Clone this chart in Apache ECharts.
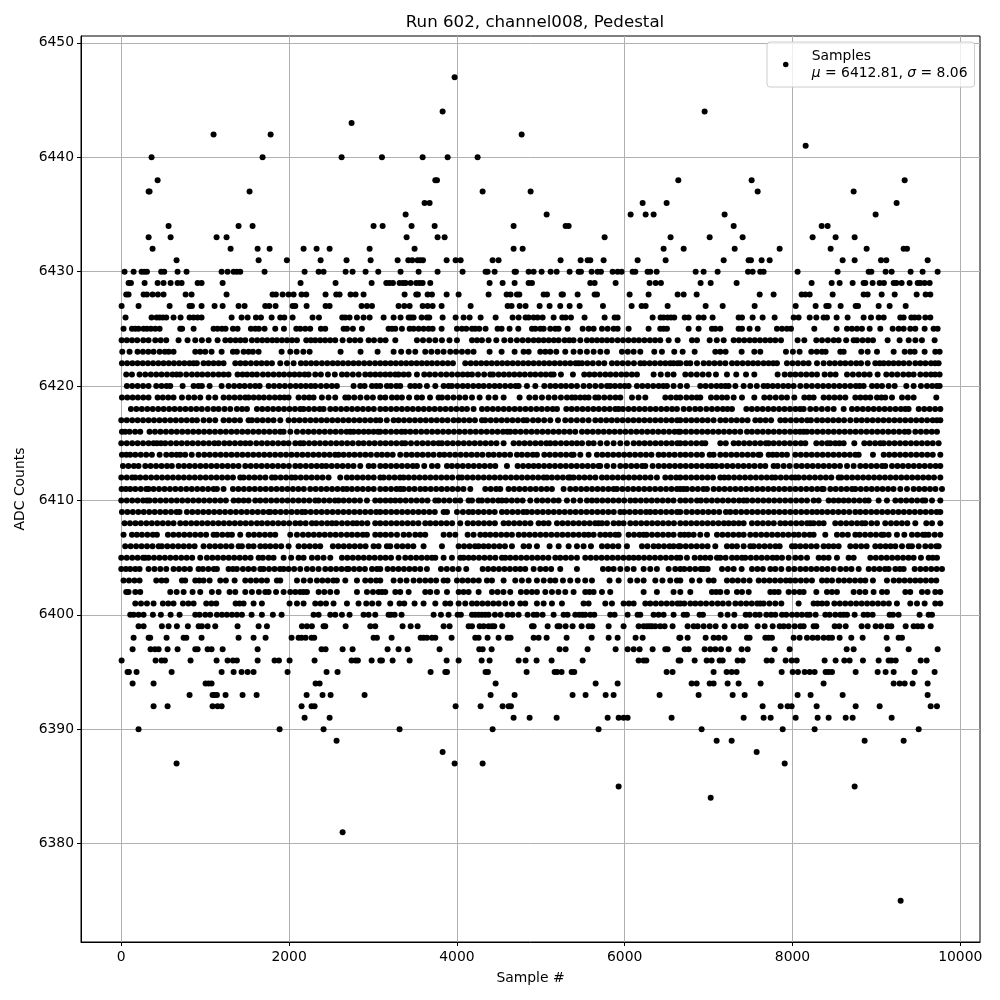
<!DOCTYPE html>
<html><head><meta charset="utf-8">
<script src="https://cdn.jsdelivr.net/npm/echarts@6/dist/echarts.min.js"></script>
<style>html,body{margin:0;padding:0;background:#fff}#c{width:1000px;height:1000px}</style>
</head><body><div id="c"></div>
<script>
const titleText = 'Run 602, channel008, Pedestal';
const xName = 'Sample #';
const yName = 'ADC Counts';
const seriesName = 'Samples';
const xTicks = [0,2000,4000,6000,8000,10000];
const yTicks = [6380,6390,6400,6410,6420,6430,6440,6450];

const r6447=[3973];
const r6444=[3830,6953];
const r6443=[2745];
const r6442=[1100,1780,4772];
const r6441=[8157];
const r6440=[361,1684,2626,3107,3592,3890,4247];
const r6438=[433,3743,3763,6639,7513,9337];
const r6437=[326,337,1529,4307,4879,7585,8729];
const r6436=[3615,3675,6214,6500,9241];
const r6435=[3389,5070,6071,6250,6345,7191,8991];
const r6434=[564,1398,1565,3007,3115,3460,3735,4676,5296,5332,7299,8348,8419];
const r6433=[326,588,1136,1255,3401,3770,3854,5761,6547,7013,7406,8240,8514,8741];
const r6432=[373,1303,1625,1768,2173,2328,2483,2960,3496,4676,4784,6464,6703,7311,7847,8455,8884,9325,9365];
const r6431=[659,1637,1974,2376,2685,2972,3294,3421,3468,3532,3564,3596,3878,3985,4045,4426,4497,5236,5475,5558,5590,5749,6154,6488,7180,7477,7505,7632,7728,8598,8741,9055,9118,9611];
const r6430=[39,147,242,274,306,476,512,671,778,1196,1267,1339,1378,1418,1708,2185,2352,2411,2674,2757,2912,3063,3329,3544,3770,4068,4342,4366,4450,4688,4704,4855,4915,5010,5117,5189,5344,5451,5479,5606,5677,5717,5856,5916,5963,6095,6127,6273,6305,6381,6846,6941,7108,7470,7525,7616,7656,8061,8538,8908,8940,9110,9182,9408,9551,9730];
const r6429=[87,115,278,433,504,588,671,719,910,957,1208,2137,2554,2984,3159,3198,3238,3317,3357,3389,3449,3516,3556,3592,3683,4390,4545,4688,4855,4895,5590,5642,5892,6297,6369,6432,6905,7025,7334,8228,8467,8562,8717,8848,8868,8955,9039,9090,9206,9238,9301,9396,9492,9524,9575,9635];
const r6428=[59,87,266,306,373,437,504,767,838,1255,1803,1843,1923,1994,2054,2149,2205,2435,2562,2602,2733,2793,2888,3377,3516,3536,3651,3703,3878,4021,4378,4593,4640,4716,4744,5034,5074,5248,5264,5439,5642,5670,6059,6285,6631,6703,6858,7609,7775,8109,8153,8205,8479,8848,8896,9063,9218,9480,9587,9643];
const r6427=[4,206,576,814,842,957,1112,1208,1398,1470,1716,1764,1839,2042,2074,2209,2435,2483,2864,2928,2988,3305,3373,3437,3592,3651,3711,3818,4164,4605,4652,4748,4819,4986,5105,5232,5344,5463,5741,6083,6202,6250,6512,6965,7168,7549,8038,8276,8403,8431,8574,8753,8781,9027,9158,9349];
const r6426=[51,361,421,457,496,536,623,707,814,862,910,957,1315,1434,1506,1605,1665,1792,1895,1943,2042,2280,2356,2634,2670,2721,2809,2888,2960,3127,3246,3329,3425,3452,3484,3580,3643,3671,3830,3985,4080,4152,4283,4462,4664,4736,4819,4855,4915,4962,5022,5153,5256,5296,5360,5522,5761,5880,5916,6333,6428,6464,6512,6552,6591,6715,6762,6881,6941,7048,7358,7398,7525,7644,7787,8014,8073,8205,8284,8371,8411,8526,8657,8848,8936,9027,9087,9285,9325,9416,9456,9504,9583,9643];
const r6425=[27,127,167,206,266,306,353,405,457,703,725,862,1100,1148,1200,1243,1331,1386,1545,1597,1640,1708,1835,1939,2086,2133,2193,2252,2379,2431,2650,2690,2761,2868,3186,3226,3266,3345,3437,3484,3544,3603,3663,3711,3818,4001,4060,4112,4180,4219,4267,4342,4485,4533,4628,4732,4895,4935,4994,5034,5113,5173,5213,5320,5499,5570,5630,5729,5797,5868,5916,6047,6285,6424,6464,6504,6762,6881,7040,7080,7140,7358,7398,7489,7585,7815,7875,7934,7982,8260,8526,8650,8709,8769,8828,8920,9047,9194,9265,9325,9404,9464,9575,9682,9730];
const r6424=[4,66,128,190,262,325,405,470,536,683,790,882,961,1041,1148,1240,1300,1362,1420,1478,1557,1620,1680,1740,1800,1855,1915,1975,2035,2094,2205,2260,2312,2371,2430,2490,2550,2638,2721,2785,2848,2948,3012,3087,3150,3266,3524,3596,3670,3743,3822,3912,4001,4180,4240,4299,4378,4470,4565,4640,4716,4784,4850,4915,4974,5034,5095,5155,5213,5284,5340,5391,5471,5550,5610,5670,5729,5789,5848,5916,5980,6045,6110,6170,6235,6300,6362,6424,6524,6631,6802,6862,7013,7098,7180,7299,7362,7425,7490,7550,7612,7675,7735,7795,7863,8061,8141,8284,8352,8422,8491,8550,8640,8729,8769,8835,8900,8960,9134,9277,9385,9465,9543,9694];
const r6423=[12,99,194,258,322,385,457,520,565,623,882,941,1001,1076,1196,1331,1378,1458,1517,1569,1637,1911,2014,2090,2170,2245,2614,2852,3055,3246,3336,3425,3504,3623,3696,3770,3842,3921,3990,4060,4130,4199,4390,4533,4688,4795,4855,4994,5054,5113,5185,5292,5391,5470,5550,5630,5710,5789,5967,6037,6107,6186,6353,6444,6591,6691,6834,7080,7140,7203,7394,7545,7616,7922,8005,8085,8224,8290,8352,8395,8570,8610,8820,8896,9007,9206,9337,9404,9456,9575,9702,9754];
const r6422=[8,70,132,194,256,318,380,442,504,566,628,690,752,814,862,901,981,1040,1100,1160,1219,1359,1420,1480,1545,1610,1672,1735,1796,1895,1975,2054,2141,2200,2262,2324,2391,2455,2520,2580,2642,2705,2768,2830,2895,2960,3025,3087,3148,3210,3272,3335,3396,3458,3520,3582,3643,3703,3765,3830,3892,3953,4100,4165,4228,4290,4352,4415,4478,4540,4602,4665,4728,4790,4852,4915,4978,5040,5102,5165,5228,5290,5352,5415,5451,5491,5555,5620,5690,5757,5848,5910,5975,6040,6110,6186,6234,6298,6360,6425,6485,6543,6583,6631,6663,6735,6782,6862,6941,7005,7070,7135,7200,7279,7340,7405,7470,7530,7590,7655,7715,7770,7815,7934,8000,8065,8130,8192,8292,8371,8443,8505,8570,8630,8695,8760,8817,8896,8987,9040,9087,9146,9205,9265,9325,9390,9464,9524,9585,9650,9700,9742];
const r6421=[59,127,218,286,353,417,480,545,610,660,703,774,842,905,965,1030,1095,1160,1220,1279,1386,1445,1500,1560,1617,1688,1750,1815,1880,1940,2005,2065,2125,2185,2233,2312,2379,2463,2545,2630,2690,2760,2830,2908,2968,3028,3087,3147,3205,3266,3305,3365,3425,3524,3611,3675,3740,3810,3875,3941,4009,4070,4128,4180,4252,4325,4398,4430,4497,4560,4622,4685,4748,4810,4875,4935,5000,5060,5120,5153,5240,5383,5518,5580,5640,5705,5770,5830,5895,5960,6020,6085,6146,6345,6430,6512,6583,6723,6790,6860,6930,7001,7088,7219,7330,7446,7545,7823,7907,7974,8035,8100,8165,8230,8292,8383,8451,8514,8650,8720,8790,8856,8920,9015,9118,9185,9250,9320,9385,9444,9524,9590,9650,9700,9754];
const r6420=[67,130,195,260,325,417,480,540,584,731,862,920,961,1053,1196,1279,1345,1410,1470,1535,1597,1649,1756,1820,1885,1950,2015,2080,2140,2200,2260,2312,2379,2445,2510,2570,2769,2848,2900,2988,3040,3087,3166,3214,3278,3325,3445,3500,3556,3643,3743,3842,3901,3941,4005,4070,4130,4195,4259,4319,4385,4450,4510,4575,4640,4700,4736,4835,4935,5042,5113,5175,5240,5300,5365,5431,5510,5580,5650,5720,5789,5828,5885,5945,6000,6047,6146,6210,6275,6340,6405,6460,6504,6583,6663,6742,6901,6965,7030,7095,7150,7200,7239,7319,7418,7497,7575,7656,7704,7765,7825,7890,7950,8014,8093,8165,8232,8300,8365,8430,8495,8560,8625,8690,8755,8800,8848,8948,9007,9067,9146,9218,9357,9444,9531,9603,9665,9720,9754];
const r6419=[8,72,135,198,262,325,433,495,560,623,723,802,870,941,1041,1120,1219,1285,1350,1415,1478,1517,1578,1640,1700,1765,1830,1890,1945,1994,2113,2180,2240,2292,2391,2470,2550,2670,2709,2777,2850,2928,2999,3087,3147,3226,3286,3345,3430,3524,3584,3680,3782,3822,3890,3960,4030,4100,4180,4271,4378,4458,4557,4748,4863,4935,5014,5093,5165,5240,5312,5371,5411,5471,5525,5570,5650,5689,5757,5825,5890,5948,6087,6165,6246,6484,6550,6615,6663,6735,6800,6860,6901,7029,7095,7160,7219,7299,7398,7545,7664,7730,7800,7870,7934,8022,8141,8200,8252,8371,8435,8500,8565,8630,8749,8810,8870,8928,9007,9060,9106,9186,9305,9375,9444,9714];
const r6418=[115,180,245,310,375,440,505,570,635,700,765,830,895,960,1030,1100,1160,1230,1299,1378,1440,1498,1617,1680,1745,1810,1875,1940,2005,2070,2133,2173,2235,2300,2365,2411,2491,2555,2620,2685,2750,2815,2880,2945,3010,3087,3150,3215,3280,3345,3410,3475,3540,3605,3670,3735,3800,3865,3930,3995,4060,4120,4199,4299,4362,4428,4492,4558,4622,4688,4752,4818,4882,4948,5012,5078,5142,5193,5304,5368,5432,5498,5562,5628,5692,5758,5822,5888,5928,5979,6045,6110,6175,6240,6305,6370,6435,6500,6565,6623,6703,6770,6840,6901,6973,7040,7105,7170,7225,7279,7450,7515,7580,7645,7710,7775,7840,7905,7970,8035,8090,8133,8212,8280,8350,8420,8491,8610,8709,8772,8838,8902,8968,9032,9098,9162,9228,9292,9345,9384,9504,9570,9635,9700,9762];
const r6417=[0,65,130,195,260,325,390,455,520,585,650,715,780,845,902,981,1050,1120,1219,1285,1350,1415,1517,1557,1620,1685,1750,1815,1895,1994,2060,2125,2190,2255,2320,2385,2450,2515,2580,2645,2710,2775,2840,2905,2970,3035,3087,3165,3246,3305,3370,3435,3500,3565,3630,3695,3760,3825,3890,3961,4021,4085,4150,4215,4299,4338,4403,4468,4533,4598,4663,4728,4793,4835,4907,4970,5040,5113,5205,5292,5360,5430,5500,5570,5650,5715,5780,5845,5910,5975,6040,6105,6170,6235,6300,6365,6430,6495,6560,6625,6663,6730,6795,6860,6925,6990,7060,7140,7203,7270,7335,7400,7465,7557,7616,7680,7745,7855,7914,7980,8045,8110,8175,8220,8292,8355,8420,8485,8550,8615,8689,8761,8825,8890,8955,9020,9085,9150,9215,9280,9345,9410,9475,9540,9605,9670,9720,9762];
const r6416=[8,47,99,165,226,337,402,467,532,597,662,727,792,857,922,987,1052,1117,1182,1247,1312,1377,1442,1507,1572,1637,1702,1767,1832,1895,1935,2015,2094,2165,2230,2295,2360,2425,2490,2555,2620,2685,2729,2769,2828,2890,2948,3007,3060,3087,3150,3215,3280,3340,3385,3445,3510,3575,3640,3705,3770,3835,3900,3965,4030,4095,4160,4225,4290,4355,4420,4485,4550,4600,4636,4696,4760,4825,4890,4955,5020,5085,5150,5215,5280,5345,5411,5491,5555,5620,5685,5750,5815,5880,5945,6010,6075,6140,6205,6270,6335,6400,6465,6530,6595,6643,6663,6728,6793,6858,6923,6988,7053,7118,7183,7248,7313,7378,7458,7517,7582,7647,7712,7777,7842,7907,7972,8037,8090,8133,8173,8232,8297,8362,8427,8492,8557,8622,8687,8752,8817,8882,8947,9012,9077,9142,9207,9272,9337,9384,9464,9530,9595,9660,9722];
const r6415=[0,65,130,195,260,325,385,425,472,524,590,655,720,785,850,915,980,1045,1110,1160,1228,1290,1355,1420,1480,1537,1609,1675,1740,1805,1870,1935,1994,2074,2133,2173,2238,2303,2368,2433,2498,2563,2628,2693,2758,2828,2888,2955,3020,3087,3150,3215,3280,3345,3385,3453,3524,3590,3655,3720,3782,3822,3887,3952,4017,4082,4147,4212,4277,4342,4407,4472,4557,4676,4741,4806,4871,4936,5001,5066,5113,5173,5240,5305,5370,5431,5491,5570,5630,5710,5789,5868,5948,6027,6107,6172,6237,6302,6367,6432,6497,6562,6627,6663,6723,6790,6855,6920,6961,7140,7205,7299,7358,7423,7488,7553,7618,7683,7716,7775,7840,7905,7970,8035,8100,8153,8284,8350,8415,8451,8510,8560,8610,8737,8856,8920,8985,9047,9087,9152,9217,9282,9347,9412,9477,9542,9607,9672,9742];
const r6414=[8,60,107,167,232,297,365,457,536,600,660,703,762,840,921,989,1054,1119,1184,1249,1314,1379,1444,1509,1574,1639,1704,1769,1834,1899,1964,2029,2094,2159,2224,2289,2354,2419,2484,2549,2590,2650,2715,2780,2845,2910,2975,3047,3107,3170,3235,3325,3397,3462,3527,3592,3657,3722,3794,3850,3915,3980,4045,4110,4175,4240,4305,4378,4438,4505,4570,4635,4716,4775,4840,4905,4954,5042,5107,5172,5237,5302,5367,5391,5471,5570,5669,5734,5799,5864,5929,5994,6059,6124,6189,6254,6319,6404,6464,6530,6595,6663,6725,6790,6860,6921,7013,7060,7140,7205,7270,7335,7400,7465,7530,7595,7616,7716,7765,7815,7875,7934,8034,8099,8164,8229,8294,8359,8424,8489,8554,8619,8684,8749,8789,8959,9087,9152,9217,9282,9347,9412,9477,9542,9607,9672,9762];
const r6413=[20,85,150,206,286,350,415,480,545,603,683,748,813,878,943,1008,1073,1138,1203,1268,1333,1398,1478,1543,1608,1673,1738,1803,1868,1933,1998,2074,2133,2200,2265,2330,2391,2443,2508,2573,2638,2703,2768,2848,2948,3007,3087,3150,3215,3280,3345,3410,3475,3524,3611,3703,3770,3882,3941,4006,4071,4136,4201,4266,4331,4396,4458,4597,4724,4789,4854,4915,4974,5039,5104,5169,5234,5299,5364,5429,5494,5559,5624,5689,5709,5789,5868,5948,6013,6078,6143,6208,6246,6333,6404,6469,6534,6599,6663,6728,6793,6858,6923,6988,7040,7092,7157,7222,7287,7352,7417,7482,7547,7616,7676,7775,7823,7895,7966,8046,8111,8176,8241,8306,8371,8436,8501,8566,8650,8729,8808,8873,8938,9003,9068,9106,9186,9251,9316,9381,9446,9511,9576,9641,9706,9762];
const r6412=[0,65,130,167,226,291,356,421,486,551,616,681,746,811,876,941,1006,1071,1136,1201,1266,1331,1418,1458,1523,1588,1653,1718,1796,1835,1900,1965,2030,2074,2139,2204,2269,2334,2399,2471,2610,2689,2749,2814,2879,2944,3009,3087,3127,3192,3257,3322,3365,3425,3490,3555,3620,3685,3750,3815,3880,3945,4021,4060,4125,4190,4255,4320,4385,4450,4515,4580,4645,4710,4775,4840,4905,4970,5035,5074,5133,5198,5263,5328,5351,5391,5456,5521,5586,5651,5729,5789,5854,5919,5984,6049,6114,6179,6244,6309,6384,6484,6549,6614,6663,6728,6793,6858,6923,6988,7053,7140,7187,7239,7304,7369,7434,7499,7564,7629,7694,7755,7795,7860,7925,7990,8034,8073,8138,8203,8268,8333,8398,8463,8550,8582,8647,8712,8777,8842,8907,8972,9037,9102,9167,9232,9297,9362,9427,9492,9557,9622,9687,9762];
const r6411=[4,55,107,167,232,297,325,385,450,515,580,645,710,775,840,905,970,1035,1100,1140,1219,1331,1396,1461,1526,1591,1656,1721,1786,1851,1916,1981,2046,2111,2176,2252,2317,2382,2447,2512,2577,2642,2689,2749,2814,2879,2944,3009,3087,3150,3215,3280,3325,3365,3430,3495,3564,3623,3688,3753,3818,3883,3948,4013,4078,4160,4338,4403,4468,4517,4616,4681,4746,4811,4876,4941,5006,5071,5133,5272,5351,5416,5481,5546,5611,5676,5741,5806,5868,5908,5973,6038,6103,6168,6233,6298,6363,6428,6493,6558,6623,6663,6703,6742,6807,6872,6937,6981,7060,7125,7190,7255,7320,7385,7450,7515,7580,7645,7710,7775,7840,7905,7970,8035,8100,8165,8230,8295,8352,8371,8451,8515,8580,8645,8709,8749,8814,8879,8944,9009,9074,9139,9204,9285,9365,9444,9509,9574,9639,9704,9782];
const r6410=[0,65,130,195,260,306,337,402,467,532,597,662,727,792,857,922,987,1052,1117,1182,1247,1339,1398,1458,1517,1597,1657,1722,1787,1852,1917,1982,2047,2112,2177,2242,2312,2352,2417,2482,2547,2590,2650,2715,2780,2845,2928,3027,3087,3150,3210,3266,3325,3390,3455,3520,3585,3650,3743,3782,3847,3912,3981,4040,4140,4180,4259,4299,4364,4429,4494,4537,4589,4654,4719,4784,4875,4954,5019,5084,5153,5213,5312,5391,5470,5550,5610,5669,5734,5799,5864,5929,5994,6067,6127,6192,6257,6322,6387,6452,6517,6582,6663,6725,6790,6862,6909,6974,7039,7104,7169,7234,7299,7364,7418,7458,7523,7588,7653,7718,7783,7848,7913,7978,8043,8108,8173,8252,8312,8431,8491,8550,8610,8669,8734,8799,8864,8908,9027,9126,9226,9291,9356,9421,9486,9551,9583,9663,9762];
const r6409=[8,73,138,203,268,333,398,463,528,593,658,695,782,847,912,977,1042,1107,1172,1237,1302,1367,1432,1497,1562,1627,1692,1757,1776,1835,1900,1965,2030,2095,2153,2193,2258,2323,2388,2453,2518,2583,2648,2713,2778,2843,2908,2973,3038,3087,3152,3217,3282,3347,3412,3477,3542,3607,3672,3737,3842,3882,4001,4072,4140,4191,4256,4321,4386,4451,4537,4597,4662,4727,4792,4835,4895,4960,5025,5090,5155,5220,5285,5350,5415,5480,5545,5610,5675,5740,5805,5870,5948,5995,6060,6125,6190,6255,6305,6365,6430,6495,6560,6625,6663,6735,6802,6867,6932,6997,7062,7127,7207,7259,7324,7389,7454,7519,7584,7649,7714,7779,7844,7909,7974,8039,8104,8169,8234,8292,8352,8417,8482,8547,8612,8677,8749,8808,8873,8938,9003,9068,9133,9198,9263,9328,9393,9458,9523,9588,9653,9718,9762];
const r6408=[39,104,169,234,299,364,429,494,559,623,703,768,833,898,963,1028,1093,1158,1223,1288,1353,1418,1483,1548,1617,1676,1741,1806,1871,1936,2001,2074,2133,2198,2272,2324,2389,2454,2511,2562,2630,2695,2760,2809,2868,2933,3027,3087,3152,3217,3282,3347,3412,3477,3542,3623,3683,3748,3813,3878,3943,4040,4128,4193,4258,4323,4388,4453,4557,4617,4682,4747,4812,4877,4974,5034,5093,5193,5258,5323,5388,5453,5518,5583,5648,5689,5729,5789,5868,5930,5987,6067,6132,6197,6262,6327,6392,6457,6522,6587,6663,6728,6793,6858,6923,6988,7053,7118,7183,7239,7299,7360,7418,7517,7582,7647,7712,7777,7855,7914,7979,8044,8109,8174,8212,8252,8315,8371,8510,8575,8640,8705,8770,8828,8868,8940,9007,9106,9174,9239,9304,9369,9464,9595,9663,9762];
const r6407=[27,127,186,246,311,376,425,556,621,686,751,816,881,946,1011,1100,1140,1205,1270,1319,1418,1517,1582,1647,1712,1776,1835,2014,2094,2165,2230,2295,2360,2425,2490,2555,2620,2689,2749,2814,2879,2928,3027,3087,3150,3215,3286,3365,3430,3504,3564,3623,3842,3912,3981,4128,4199,4279,4338,4398,4463,4528,4593,4656,4736,4801,4866,4931,4996,5061,5126,5193,5258,5323,5388,5453,5518,5570,5630,5709,5769,5828,5890,5928,6047,6112,6177,6226,6261,6326,6391,6456,6521,6583,6663,6712,6762,6822,6901,6981,7100,7165,7230,7295,7360,7418,7497,7562,7627,7692,7757,7822,7887,7952,8017,8073,8141,8205,8252,8391,8530,8595,8660,8749,8800,8865,8930,8995,9060,9087,9146,9245,9333,9424,9489,9554,9583,9623,9695,9762];
const r6406=[47,112,177,242,307,372,445,484,549,614,679,744,809,874,981,1053,1118,1183,1248,1313,1398,1438,1517,1577,1657,1716,1776,1841,1906,1994,2113,2181,2246,2311,2371,2522,2587,2652,2717,2782,2847,2912,3007,3067,3166,3206,3286,3351,3416,3481,3603,3822,4021,4086,4151,4216,4259,4319,4378,4443,4508,4573,4656,4795,4860,4954,5105,5213,5332,5431,5510,5598,5729,5794,5859,5924,6027,6206,6271,6345,6404,6469,6534,6583,6643,6663,6728,6793,6858,6923,6988,7080,7219,7280,7338,7418,7497,7537,7602,7667,7732,7797,7847,7994,8034,8093,8158,8223,8288,8371,8431,8490,8550,8689,8754,8819,8884,8987,9047,9110,9170,9226,9305,9384,9424,9504,9583,9650,9715,9742];
const r6405=[0,65,130,195,260,286,325,390,455,520,585,650,715,780,845,941,1021,1086,1151,1216,1281,1346,1411,1476,1541,1637,1688,1756,1815,1935,2025,2113,2173,2272,2340,2411,2491,2630,2695,2760,2825,2890,2955,3020,3087,3150,3215,3305,3385,3450,3515,3580,3645,3703,3743,3842,3941,4040,4080,4140,4199,4264,4329,4394,4459,4537,4577,4636,4701,4766,4831,4896,4961,5026,5091,5173,5232,5297,5362,5431,5530,5595,5660,5725,5790,5855,5920,5985,6050,6107,6166,6231,6296,6361,6426,6491,6556,6621,6663,6742,6834,6901,6960,7021,7100,7140,7203,7279,7338,7398,7438,7503,7568,7633,7698,7763,7815,7875,7954,8034,8100,8173,8312,8371,8431,8530,8669,8729,8928,8993,9058,9123,9188,9253,9318,9383,9444,9531,9623,9672,9722];
const r6404=[0,55,107,167,218,325,395,465,536,623,688,753,818,921,973,1038,1103,1140,1279,1330,1378,1450,1515,1580,1657,1696,1761,1826,1891,1935,1994,2060,2133,2213,2280,2352,2431,2496,2561,2626,2689,2709,2774,2839,2904,2988,3047,3087,3174,3239,3304,3369,3434,3499,3564,3643,3810,3880,3950,4021,4112,4307,4372,4437,4502,4567,4632,4697,4756,4815,4915,4994,5059,5124,5232,5431,5741,5806,5868,5948,6030,6107,6226,6305,6384,6524,6603,6663,6711,6776,6841,6906,6941,6989,7160,7230,7299,7394,7517,7582,7647,7736,7795,7867,7954,8022,8093,8158,8223,8288,8353,8418,8491,8570,8638,8703,8789,8908,8973,9038,9103,9146,9226,9280,9325,9456,9524,9589,9654,9719,9782];
const r6403=[27,92,157,218,417,480,536,723,762,882,930,981,1053,1180,1247,1351,1478,1543,1608,1673,1736,1855,1895,2094,2175,2252,2332,2397,2462,2527,2570,2670,2809,2908,2973,3038,3087,3246,3325,3400,3484,3556,3623,3688,3753,3842,3889,4001,4066,4131,4196,4261,4358,4418,4557,4696,4775,4855,4954,5035,5113,5173,5264,5351,5440,5530,5610,5820,5928,6067,6150,6226,6365,6450,6543,6623,6663,6802,6893,7001,7060,7219,7284,7349,7418,7489,7597,7662,7727,7792,7857,7922,7974,8034,8099,8164,8232,8352,8410,8471,8550,8615,8680,8745,8810,8868,8959,9126,9206,9271,9336,9401,9464,9524,9589,9654,9714];
const r6402=[59,87,167,226,584,660,743,850,941,1080,1160,1291,1359,1478,1557,1640,1716,1756,1845,1935,2014,2075,2133,2173,2213,2352,2420,2491,2570,2809,2928,3000,3067,3107,3147,3266,3325,3425,3623,3683,3762,3882,4021,4080,4140,4259,4418,4485,4555,4636,4763,4830,4895,4954,5054,5133,5210,5292,5391,5530,5580,5630,5729,5828,6226,6384,6583,6663,6782,7040,7090,7140,7219,7338,7398,7478,7736,7785,7835,7954,8020,8085,8133,8284,8411,8470,8530,8729,8800,8868,8967,9067,9126,9345,9404,9543,9610,9702,9762];
const r6401=[167,235,306,385,496,560,623,735,800,862,1013,1075,1132,1363,1410,1458,1577,1676,2006,2094,2173,2312,2375,2440,2530,2690,2828,2920,2990,3067,3206,3317,3373,3496,3603,3743,3862,3921,4021,4100,4180,4239,4304,4369,4434,4499,4577,4656,4756,4815,4954,5034,5133,5252,5510,5570,5769,5848,5987,6050,6107,6246,6305,6370,6435,6500,6565,6630,6663,6711,6782,6842,6905,6970,7040,7108,7170,7239,7319,7384,7449,7514,7579,7616,7656,7725,7795,7867,8073,8252,8300,8352,8411,8499,8564,8629,8694,8759,8824,8889,8954,9019,9084,9149,9245,9404,9484,9575,9702,9762];
const r6400=[107,147,206,266,377,472,588,695,882,933,1001,1060,1140,1200,1259,1319,1378,1438,1553,1676,1807,1911,2292,2352,2491,2551,2630,2721,2888,2948,3027,3186,3214,3258,3341,3723,3810,3901,4009,4048,4180,4219,4259,4299,4338,4378,4454,4521,4605,4664,4736,4843,4915,4954,5022,5153,5272,5320,5411,5459,5499,5530,5590,5638,5828,5880,6035,6154,6186,6345,6404,6464,6583,6703,6742,6893,6933,7144,7227,7307,7442,7489,7557,7609,7688,7744,7795,7875,7926,7994,8054,8113,8173,8205,8276,8391,8443,8510,8570,8610,8650,8741,8848,8896,8955,9158,9198,9265,9515,9623,9663];
const r6399=[206,266,484,564,663,794,922,961,1029,1120,1386,1637,1736,2153,2213,2272,2411,2431,2674,2968,3027,3353,3449,3532,3842,3913,4140,4180,4271,4319,4378,4418,4446,4541,4895,4915,5082,5200,5224,5296,5379,5487,5570,5614,5809,5987,6166,6226,6265,6297,6325,6365,6424,6476,6571,6750,6822,6870,6941,7013,7084,7191,7299,7382,7442,7585,7668,7764,7847,7895,7954,8026,8093,8133,8252,8284,8503,8558,8634,8824,8896,8991,9055,9134,9178,9349,9444,9492,9543,9647];
const r6398=[147,326,345,540,743,775,957,1398,1577,1720,2030,2113,2149,2197,2268,2300,3007,3047,3222,3568,3603,3643,3703,3743,3937,4219,4259,4366,4497,4605,4640,4915,4974,5070,5308,5606,5809,5916,6130,6214,6651,6663,6750,6965,7060,7120,7191,7458,7489,7676,7716,7755,8014,8085,8173,8240,8300,8371,8431,8471,8562,8701,8836,9122,9265,9305];
const r6397=[135,349,401,445,552,671,882,910,1029,1076,1208,1625,2387,2435,2638,2757,3174,3305,3413,3794,4267,4307,4414,4843,5224,5296,5558,5892,6035,6107,6178,6333,6484,6512,6715,6762,6953,7021,7080,7148,7239,7394,7466,7787,7966,8646,8729,9134,9385,9730];
const r6396=[4,409,480,520,826,1136,1267,1331,1378,1625,1827,1879,2006,2304,2745,2793,2820,2984,3087,3107,3234,3437,3878,4021,4295,4390,4736,4819,4950,5129,5499,6166,6226,6258,6643,6663,6834,6977,7036,7132,7168,7346,7406,7692,7752,7918,7990,8050,8383,8514,8618,8681,8840,9027,9146,9178,9230,9528,9599];
const r6395=[75,91,182,600,1196,1339,1434,1506,1577,1982,2447,2578,3687,3862,3882,4342,4370,4831,5165,5193,5248,5368,5399,6500,6571,7060,7215,7275,7334,7871,8002,8065,8145,8205,8264,8395,8431,8471,8753,9015,9110,9206,9456,9694];
const r6394=[135,385,1005,1041,1076,2316,2364,4462,5654,5916,6798,6858,7013,7060,7227,7358,7620,8371,9206,9277,9337,9432,9611];
const r6393=[814,1088,1112,1140,1243,1446,1613,2209,2399,2495,2900,4402,4688,5379,5534,5773,5868,6416,6881,7287,7430,8061,8216,8598,9611];
const r6392=[385,552,1088,1148,1196,2149,2268,2304,3985,4283,4545,4617,4644,7644,7859,7942,7990,8288,8753,9039,9647,9722];
const r6391=[2185,2483,4676,4867,5189,5797,5928,5987,6035,6559,7418,7656,7740,8038,8300,8431,8634,8717,9182];
const r6390=[206,1887,2411,3317,4426,5689,6917,7883,8264,9504];
const r6389=[2566,7096,7275,8860,9325];
const r6388=[3830,7573];
const r6387=[659,3973,4307,7907];
const r6385=[5928,8741];
const r6384=[7025];
const r6381=[2638];
const r6375=[9289];

const rows = [[6447,r6447],[6444,r6444],[6443,r6443],[6442,r6442],[6441,r6441],[6440,r6440],[6438,r6438],[6437,r6437],[6436,r6436],[6435,r6435],[6434,r6434],[6433,r6433],[6432,r6432],[6431,r6431],[6430,r6430],[6429,r6429],[6428,r6428],[6427,r6427],[6426,r6426],[6425,r6425],[6424,r6424],[6423,r6423],[6422,r6422],[6421,r6421],[6420,r6420],[6419,r6419],[6418,r6418],[6417,r6417],[6416,r6416],[6415,r6415],[6414,r6414],[6413,r6413],[6412,r6412],[6411,r6411],[6410,r6410],[6409,r6409],[6408,r6408],[6407,r6407],[6406,r6406],[6405,r6405],[6404,r6404],[6403,r6403],[6402,r6402],[6401,r6401],[6400,r6400],[6399,r6399],[6398,r6398],[6397,r6397],[6396,r6396],[6395,r6395],[6394,r6394],[6393,r6393],[6392,r6392],[6391,r6391],[6390,r6390],[6389,r6389],[6388,r6388],[6387,r6387],[6385,r6385],[6384,r6384],[6381,r6381],[6375,r6375]];
const points = [];
rows.forEach(([y, xs]) => xs.forEach(x => points.push([x, y])));

const font = 'DejaVu Sans';
const plain = v => String(v);
const chart = echarts.init(document.getElementById('c'), null, {renderer:'canvas'});
const axisCommon = {
  axisLine:{show:true,onZero:false,lineStyle:{color:'#000',width:1}},
  splitLine:{show:true,lineStyle:{color:'#b0b0b0',width:1}},
  nameLocation:'middle',
  nameTextStyle:{color:'#000',fontFamily:font,fontSize:13.9}
};
chart.setOption({
  animation:false,
  backgroundColor:'#fff',
  title:{text:titleText,left:530,top:9,textAlign:'center',
    textStyle:{color:'#000',fontFamily:font,fontSize:16.67,fontWeight:'normal'}},
  grid:{left:81,right:20,top:36,bottom:58,show:true,borderColor:'#000',borderWidth:1,backgroundColor:'#fff'},
  legend:{
    show:true,left:767,top:42,orient:'vertical',
    padding:[5.5,7,5.5,16],itemWidth:24,itemHeight:5.5,
    backgroundColor:'rgba(255,255,255,0.8)',borderColor:'#ccc',borderWidth:1,borderRadius:3,
    data:[{name:seriesName,icon:'circle'}],
    formatter:function(){return seriesName+'\n{i|\u03bc} = 6412.81, {i|\u03c3} = 8.06';},
    textStyle:{color:'#000',fontFamily:font,fontSize:13.9,lineHeight:17,padding:[0,0,0,9],
      rich:{i:{fontStyle:'italic',fontFamily:font,fontSize:13.9,color:'#000',lineHeight:17}}}
  },
  xAxis:Object.assign({},axisCommon,{type:'value',min:-480,max:10235,name:xName,nameGap:29,
    axisTick:{show:true,length:4,lineStyle:{color:'#000'},customValues:xTicks},
    axisLabel:{color:'#000',fontFamily:font,fontSize:13.9,margin:8,customValues:xTicks,formatter:plain}}),
  yAxis:Object.assign({},axisCommon,{type:'value',min:6371.4,max:6450.6,name:yName,nameGap:49,
    axisTick:{show:true,length:4,lineStyle:{color:'#000'},customValues:yTicks},
    axisLabel:{color:'#000',fontFamily:font,fontSize:13.9,margin:7,customValues:yTicks,formatter:plain}}),
  series:[{name:seriesName,type:'scatter',data:points,symbol:'circle',symbolSize:6,
    itemStyle:{color:'#000',opacity:1},silent:true,z:3,large:false}]
});
</script></body></html>
